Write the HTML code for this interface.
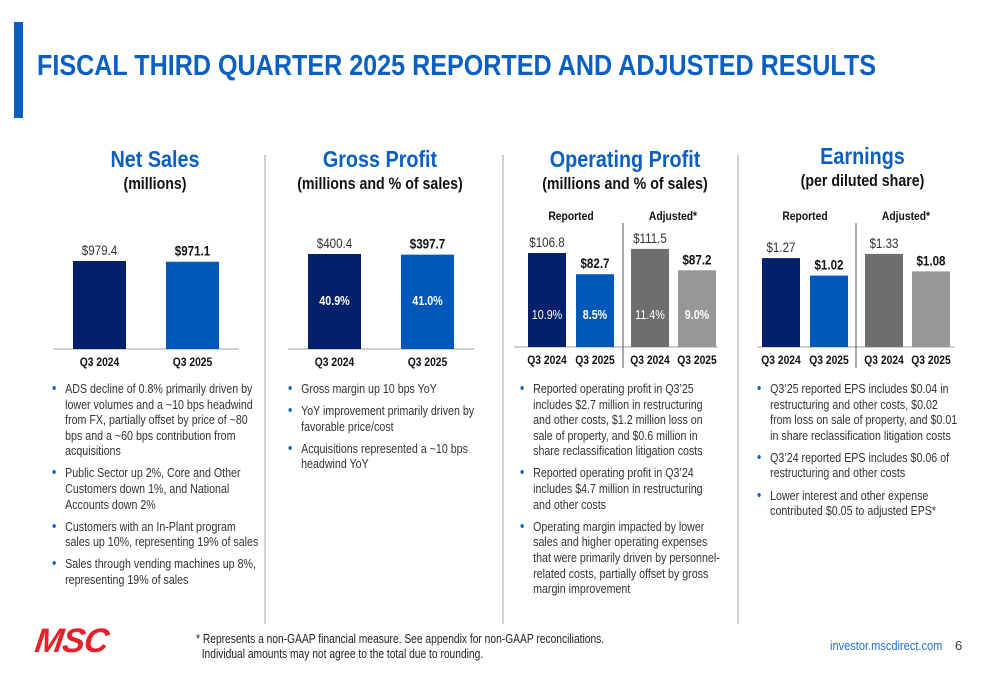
<!DOCTYPE html>
<html><head><meta charset="utf-8">
<style>
html,body{margin:0;padding:0;background:#fff;}
body{width:1000px;height:685px;position:relative;overflow:hidden;font-family:"Liberation Sans",Arial,sans-serif;color:#222;}
.abs{position:absolute;}
.title{left:37px;top:50px;font-size:29px;font-weight:bold;color:#0a5fc4;white-space:nowrap;transform-origin:0 0;}
.h1{font-size:23px;font-weight:bold;color:#0a5fc4;white-space:nowrap;text-align:center;transform:scaleX(.86);}
.h2{font-size:16.5px;font-weight:bold;color:#111;white-space:nowrap;text-align:center;transform:scaleX(.86);}
.bl{position:absolute;font-size:13px;line-height:15.6px;color:#333;white-space:nowrap;transform:scaleX(.82);transform-origin:0 0;}
.bl p{margin:0 0 6.5px 0;position:relative;padding-left:16px;}
.bl p::before{content:"•";color:#0a5fc4;position:absolute;left:0;top:0;font-size:15px;}
.foot{font-size:12.5px;line-height:15px;color:#222;white-space:nowrap;transform:scaleX(.82);transform-origin:0 0;}
</style></head><body>
<div class="abs" style="left:14px;top:22px;width:9px;height:96px;background:#0a5fc4"></div>
<div class="abs title" id="title">FISCAL THIRD QUARTER 2025 REPORTED AND ADJUSTED RESULTS</div>

<div class="abs" style="left:55px;top:146px;width:200px"><div class="h1">Net Sales</div><div class="h2" style="margin-top:2px">(millions)</div></div>
<div class="abs" style="left:270px;top:146px;width:220px"><div class="h1">Gross Profit</div><div class="h2" style="margin-top:2px">(millions and % of sales)</div></div>
<div class="abs" style="left:510px;top:146px;width:230px"><div class="h1">Operating Profit</div><div class="h2" style="margin-top:2px">(millions and % of sales)</div></div>
<div class="abs" style="left:760px;top:143px;width:205px"><div class="h1">Earnings</div><div class="h2" style="margin-top:2px">(per diluted share)</div></div>

<svg id="chart" class="abs" style="left:0;top:0" width="1000" height="685"></svg>

<div class="bl" style="left:52px;top:381px">
<p>ADS decline of 0.8% primarily driven by<br>lower volumes and a ~10 bps headwind<br>from FX, partially offset by price of ~80<br>bps and a ~60 bps contribution from<br>acquisitions</p>
<p>Public Sector up 2%, Core and Other<br>Customers down 1%, and National<br>Accounts down 2%</p>
<p>Customers with an In-Plant program<br>sales up 10%, representing 19% of sales</p>
<p>Sales through vending machines up 8%,<br>representing 19% of sales</p>
</div>
<div class="bl" style="left:288px;top:381px">
<p>Gross margin up 10 bps YoY</p>
<p>YoY improvement primarily driven by<br>favorable price/cost</p>
<p>Acquisitions represented a ~10 bps<br>headwind YoY</p>
</div>
<div class="bl" style="left:520px;top:381px">
<p>Reported operating profit in Q3’25<br>includes $2.7 million in restructuring<br>and other costs, $1.2 million loss on<br>sale of property, and $0.6 million in<br>share reclassification litigation costs</p>
<p>Reported operating profit in Q3’24<br>includes $4.7 million in restructuring<br>and other costs</p>
<p>Operating margin impacted by lower<br>sales and higher operating expenses<br>that were primarily driven by personnel-<br>related costs, partially offset by gross<br>margin improvement</p>
</div>
<div class="bl" style="left:757px;top:381px">
<p>Q3’25 reported EPS includes $0.04 in<br>restructuring and other costs, $0.02<br>from loss on sale of property, and $0.01<br>in share reclassification litigation costs</p>
<p>Q3’24 reported EPS includes $0.06 of<br>restructuring and other costs</p>
<p>Lower interest and other expense<br>contributed $0.05 to adjusted EPS*</p>
</div>

<div class="abs" style="left:38px;top:622px;font-size:34px;font-weight:bold;font-style:italic;color:#e8202a;letter-spacing:-1px;transform:scaleX(1.0) skewX(-8deg);transform-origin:0 0;">MSC</div>
<div class="abs foot" style="left:196px;top:632px">* Represents a non-GAAP financial measure. See appendix for non-GAAP reconciliations.<br>&nbsp;&nbsp;Individual amounts may not agree to the total due to rounding.</div>
<div class="abs" style="left:830px;top:638px;font-size:13px;color:#1e6fd0;transform:scaleX(.85);transform-origin:0 0;white-space:nowrap">investor.mscdirect.com</div>
<div class="abs" style="left:955px;top:638px;font-size:13px;color:#333">6</div>

<script>
const cats = ['Q3 2024','Q3 2025'];
const netSalesVals = [979.4, 971.1];
const grossVals = [400.4, 397.7];
const grossPct = ['40.9%','41.0%'];
const opReportedVals = [106.8, 82.7];
const opAdjustedVals = [111.5, 87.2];
const opReportedPct = ['10.9%','8.5%'];
const opAdjustedPct = ['11.4%','9.0%'];
const epsReportedVals = [1.27, 1.02];
const epsAdjustedVals = [1.33, 1.08];
const netSalesLabels = ['$979.4','$971.1'];
const grossLabels = ['$400.4','$397.7'];
const opReportedLabels = ['$106.8','$82.7'];
const opAdjustedLabels = ['$111.5','$87.2'];
const epsReportedLabels = ['$1.27','$1.02'];
const epsAdjustedLabels = ['$1.33','$1.08'];

const NS='http://www.w3.org/2000/svg';
const svg=document.getElementById('chart');
function el(tag,attrs,parent){const e=document.createElementNS(NS,tag);for(const k in attrs)e.setAttribute(k,attrs[k]);(parent||svg).appendChild(e);return e;}
function txt(x,y,s,size,weight,fill,parent){
  const t=el('text',{x:x,y:y,'text-anchor':'middle','font-size':size,'font-weight':weight,fill:fill,'font-family':'Liberation Sans, Arial, sans-serif',transform:`translate(${x},0) scale(.86,1) translate(${-x},0)`},parent);
  t.textContent=s;return t;
}
function yScale(base,pxPerUnit){return v=>base-v*pxPerUnit;}

[265,503,738].forEach(x=>{
  const l=el('line',{x1:x,y1:155,x2:x,y2:624,stroke:'#d0d0d0','stroke-width':2});
  
  
});

function group(xs,w,vals,labels,pcts,colors,base,ppu,pctY,name,pctStyle){
  const y=yScale(base,ppu);
  const g=el('g',{});
  
  
  vals.forEach((v,i)=>{
    const r=el('rect',{x:xs[i],y:y(v),width:w,height:base-y(v),fill:colors[i]},g);
    
    
    const cx=xs[i]+w/2;
    const lt=txt(cx,y(v)-6,labels[i],13.5,i?'bold':'normal',i?'#111':'#333',g);
    
    
    if(pcts){
      const pt=txt(cx,pctY,pcts[i],12.5,(pctStyle==='bold'||i)?'bold':'normal','#fff',g);
      
      
    }
    const ct=txt(cx,base+17,cats[i],12,'bold','#111',g);
    
    
  });
  return g;
}
function axis(x1,x2,y,name){
  const a=el('line',{x1:x1,y1:y,x2:x2,y2:y,stroke:'#bfbfbf','stroke-width':1.5});
  
  
}
const NAVY='#03216b', BLUE='#0058b9', DG='#6e6e6e', LG='#979797';

axis(53,239,349,'net-sales-axis');
group([73,166],53,netSalesVals,netSalesLabels,null,[NAVY,BLUE],349,88/979.4,0,'net-sales');
axis(288,474,349,'gross-profit-axis');
group([308,401],53,grossVals,grossLabels,grossPct,[NAVY,BLUE],349,95/400.4,305,'gross-profit','bold');
axis(514,718,347,'operating-profit-axis');
group([528,576],38,opReportedVals,opReportedLabels,opReportedPct,[NAVY,BLUE],347,0.88,319,'op-reported');
group([631,678],38,opAdjustedVals,opAdjustedLabels,opAdjustedPct,[DG,LG],347,0.88,319,'op-adjusted');
axis(757,955,347,'earnings-axis');
group([762,810],38,epsReportedVals,epsReportedLabels,null,[NAVY,BLUE],347,70,0,'eps-reported');
group([865,912],38,epsAdjustedVals,epsAdjustedLabels,null,[DG,LG],347,70,0,'eps-adjusted');

[[571,'Reported'],[673,'Adjusted*'],[805,'Reported'],[906,'Adjusted*']].forEach(([x,s])=>{
  const t=txt(x,220,s,12,'bold','#111');
  
  
});
[623,856].forEach(x=>{
  const l=el('line',{x1:x,y1:223,x2:x,y2:368,stroke:'#555','stroke-width':1});
  
  
});

const t=document.getElementById('title');
const w=t.getBoundingClientRect().width;
t.style.transform='scaleX('+(839/w)+')';
</script>
</body></html>
